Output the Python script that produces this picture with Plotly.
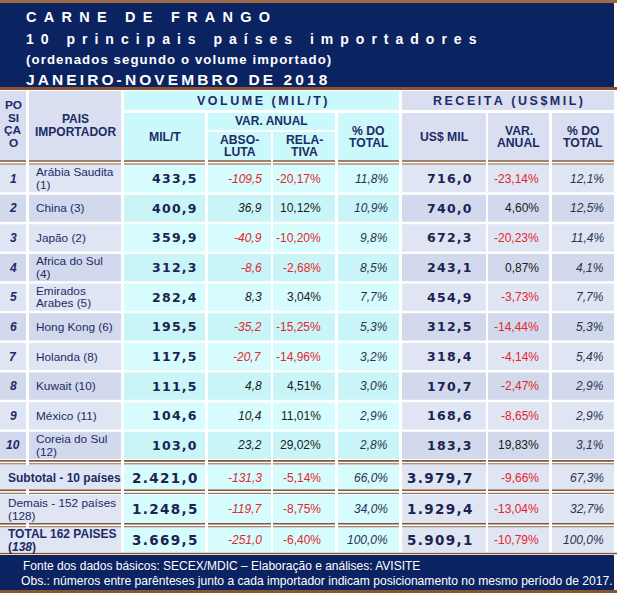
import plotly.graph_objects as go

# ---------------- data ----------------
positions = [1, 2, 3, 4, 5, 6, 7, 8, 9, 10]
country_labels = ["Arábia Saudita\n(1)", "China (3)", "Japão (2)", "Africa do Sul\n(4)",
                  "Emirados\nArabes (5)", "Hong Kong (6)", "Holanda (8)", "Kuwait (10)",
                  "México (11)", "Coreia do Sul\n(12)"]
volume = [433.5, 400.9, 359.9, 312.3, 282.4, 195.5, 117.5, 111.5, 104.6, 103.0]
var_abs = [-109.5, 36.9, -40.9, -8.6, 8.3, -35.2, -20.7, 4.8, 10.4, 23.2]
var_rel = [-20.17, 10.12, -10.20, -2.68, 3.04, -15.25, -14.96, 4.51, 11.01, 29.02]
share_vol = [11.8, 10.9, 9.8, 8.5, 7.7, 5.3, 3.2, 3.0, 2.9, 2.8]
revenue = [716.0, 740.0, 672.3, 243.1, 454.9, 312.5, 318.4, 170.7, 168.6, 183.3]
rev_var = [-23.14, 4.60, -20.23, 0.87, -3.73, -14.44, -4.14, -2.47, -8.65, 19.83]
rev_share = [12.1, 12.5, 11.4, 4.1, 7.7, 5.3, 5.4, 2.9, 2.9, 3.1]

summary_labels = ["Subtotal - 10 países", "Demais - 152 países\n(128)", "TOTAL 162 PAISES\n(<i>138</i>)"]
summary_bold = [True, False, True]
summary_volume = [2421.0, 1248.5, 3669.5]
summary_var_abs = [-131.3, -119.7, -251.0]
summary_var_rel = [-5.14, -8.75, -6.40]
summary_share_vol = [66.0, 34.0, 100.0]
summary_revenue = [3979.7, 1929.4, 5909.1]
summary_rev_var = [-9.66, -13.04, -10.79]
summary_rev_share = [67.3, 32.7, 100.0]

title_lines = ["CARNE DE FRANGO", "10 principais países importadores",
               "(ordenados segundo o volume importado)", "JANEIRO-NOVEMBRO DE 2018"]
group_headers = ["VOLUME (MIL/T)", "RECEITA (US$MIL)"]
col_headers = ["PO\nSI\nÇA\nO", "PAIS\nIMPORTADOR", "MIL/T", "ABSO-\nLUTA", "RELA-\nTIVA",
               "% DO\nTOTAL", "US$ MIL", "VAR.\nANUAL", "% DO\nTOTAL"]
sub_header = "VAR. ANUAL"
footer_lines = ["Fonte dos dados básicos: SECEX/MDIC – Elaboração e análises: AVISITE",
                "Obs.: números entre parênteses junto a cada importador indicam posicionamento no mesmo período de 2017."]

# ---------------- style / layout ----------------
W, H = 617, 593
SANS = "Liberation Sans, Arial, sans-serif"
NUMF = "DejaVu Sans, Verdana, sans-serif"
NAVY = "#0c2362"
BROWN = "#8a5432"
BROWN2 = "#7b5c4a"
TXT = "#1c2b66"
RED = "#e3262b"
DARK = "#1a1a1a"
LAV = ["#dfe5f3", "#d2d9ed"]
CYAN = ["#d7fcfd", "#c9f5f8"]
LAV_H = "#d9dff0"
CYAN_H = "#cbf8fa"

# column extents (x0, x1)
cols = [(0, 26), (29, 121), (124, 205), (208, 271), (273, 335), (338, 399),
        (402, 486), (488, 549), (552, 614)]
col_kind = ["L", "L", "C", "C", "C", "C", "L", "L", "L"]
right_edge = [None, None, 198, 263, 322, 389, 473, 540, 605]

shapes = []
annots = []


def rect(x0, x1, y0, y1, color):
    shapes.append(dict(type="rect", xref="x", yref="y", x0=x0, x1=x1, y0=y0, y1=y1,
                       fillcolor=color, line=dict(width=0), layer="below"))


def hline(x0, x1, y, color, width):
    shapes.append(dict(type="line", xref="x", yref="y", x0=x0, x1=x1, y0=y, y1=y,
                       line=dict(color=color, width=width), layer="above"))


def text(x, y, s, size, color, family=SANS, bold=False, italic=False,
         xanchor="center", lh=None):
    lines = s.split("\n")
    lh = lh if lh is not None else size * 1.05
    y0 = y - (len(lines) - 1) * lh / 2
    for k, ln in enumerate(lines):
        annots.append(dict(x=x, y=y0 + k * lh, xref="x", yref="y", text=ln, showarrow=False,
                           xanchor=xanchor, yanchor="middle", borderpad=0,
                           font=dict(family=family, size=size, color=color,
                                     weight="bold" if bold else "normal",
                                     style="italic" if italic else "normal")))


def spaced(s, sep):
    return sep.join(list(s))


def br(v, dec):
    s = f"{v:,.{dec}f}"
    return s.replace(",", "#").replace(".", ",").replace("#", ".")


def sign_color(v):
    return RED if v < 0 else DARK


# ---- title block ----
hline(0, W, 1.5, "#9b6a45", 3)
rect(0, 614, 3, 87, NAVY)
hline(0, W, 88.5, BROWN, 3)
text(25, 17, spaced(title_lines[0], "\u2002"), 14.5, "white", bold=True, xanchor="left")
text(25, 39, spaced(title_lines[1], "\u2002"), 14, "white", bold=True, xanchor="left")
text(25, 59, spaced(title_lines[2], "\u200a"), 13.2, "white", bold=True, xanchor="left")
text(25, 79, spaced(title_lines[3], "\u2009"), 15.5, "white", bold=True, xanchor="left")

# ---- header ----
HT, HB = 91, 160
rect(cols[0][0], cols[0][1], HT, HB, LAV_H)
rect(cols[1][0], cols[1][1], HT, HB, LAV_H)
rect(cols[2][0], cols[5][1], HT, 110, CYAN_H)
rect(cols[6][0], cols[8][1], HT, 110, LAV_H)
rect(cols[2][0], cols[2][1], 113, HB, CYAN_H)
rect(cols[3][0], cols[4][1], 113, 130, CYAN_H)
rect(cols[3][0], cols[3][1], 132, HB, CYAN_H)
rect(cols[4][0], cols[4][1], 132, HB, CYAN_H)
rect(cols[5][0], cols[5][1], 113, HB, CYAN_H)
for c in (6, 7, 8):
    rect(cols[c][0], cols[c][1], 113, HB, LAV_H)

text(13, 124, col_headers[0], 11.8, TXT, bold=True, lh=12.8)
text(75, 125, col_headers[1], 12, TXT, bold=True, lh=13)
text((cols[2][0] + cols[5][1]) / 2, 101, spaced(group_headers[0], "\u2009"), 12.5, TXT, bold=True)
text((cols[6][0] + cols[8][1]) / 2, 101, spaced(group_headers[1], "\u2009"), 12.5, TXT, bold=True)
text((cols[3][0] + cols[4][1]) / 2, 121, sub_header, 12, TXT, bold=True)
for c in range(2, 9):
    x0, x1 = cols[c]
    yc = 146 if c in (3, 4) else 137
    text((x0 + x1) / 2, yc, col_headers[c], 12.2, TXT, bold=True, lh=12.5)


def double_line(y):
    for x0, x1 in cols:
        hline(x0, x1, y, BROWN, 1.6)
        hline(x0, x1, y + 3, BROWN2, 1)


double_line(161)

# ---- data rows ----
R0, PITCH, RH = 165, 29.65, 27.2


def value_cells(yc, vals, big):
    v_vol, v_abs, v_rel, v_sv, v_rev, v_rv, v_rs = vals
    nsize = 13.5 if big else 12.5
    text(right_edge[2], yc, spaced(br(v_vol, 1), "\u200a"), nsize, "#1b2450", family=NUMF,
         bold=True, xanchor="right")
    text(right_edge[3], yc, br(v_abs, 1), 12, sign_color(v_abs), italic=True, xanchor="right")
    text(right_edge[4], yc, br(v_rel, 2) + "%", 12, sign_color(v_rel), xanchor="right")
    text(right_edge[5], yc, br(v_sv, 1) + "%", 12, "#2a3354", italic=True, xanchor="right")
    text(right_edge[6], yc, spaced(br(v_rev, 1), "\u200a"), nsize, "#1b2450", family=NUMF,
         bold=True, xanchor="right")
    text(right_edge[7], yc, br(v_rv, 2) + "%", 12, sign_color(v_rv), xanchor="right")
    text(right_edge[8], yc, br(v_rs, 1) + "%", 12, "#2a3354", italic=True, xanchor="right")


for i in range(len(positions)):
    y0 = R0 + i * PITCH
    y1 = y0 + RH
    yc = (y0 + y1) / 2
    for c, (x0, x1) in enumerate(cols):
        rect(x0, x1, y0, y1, (LAV if col_kind[c] == "L" else CYAN)[i % 2])
    text(13, yc, str(positions[i]), 12, TXT, bold=True, italic=True)
    text(35, yc, country_labels[i], 11.8, TXT, xanchor="left", lh=12.3)
    value_cells(yc, [volume[i], var_abs[i], var_rel[i], share_vol[i], revenue[i],
                     rev_var[i], rev_share[i]], False)

# ---- summary rows ----
last_bottom = R0 + (len(positions) - 1) * PITCH + RH
sum_rows = [(last_bottom + 6, 490), (494.5, 523.5), (528, 552)]
for j, (y0, y1) in enumerate(sum_rows):
    double_line(y0 - 5 + 0.8)
    yc = (y0 + y1) / 2
    rect(cols[0][0], cols[1][1], y0, y1, LAV[0])
    for c in range(2, 9):
        x0, x1 = cols[c]
        rect(x0, x1, y0, y1, LAV[0] if col_kind[c] == "L" else CYAN[0])
    text(7, yc, summary_labels[j], 12 if j != 1 else 11.8, TXT, bold=summary_bold[j],
         xanchor="left", lh=13)
    value_cells(yc, [summary_volume[j], summary_var_abs[j], summary_var_rel[j],
                     summary_share_vol[j], summary_revenue[j], summary_rev_var[j],
                     summary_rev_share[j]], True)

# ---- footer ----
hline(0, W, 553.5, BROWN, 1.6)
rect(0, 614, 555, 590, NAVY)
hline(0, W, 591.5, BROWN, 3)
text(22, 566, footer_lines[0], 12, "white", xanchor="left")
text(20, 581, footer_lines[1], 12.1, "white", xanchor="left")

fig = go.Figure(go.Scatter(x=[], y=[], mode="markers", hoverinfo="skip", showlegend=False))
fig.update_layout(
    width=W, height=H, margin=dict(l=0, r=0, t=0, b=0),
    paper_bgcolor="white", plot_bgcolor="white",
    xaxis=dict(range=[0, W], visible=False, fixedrange=True),
    yaxis=dict(range=[H, 0], visible=False, fixedrange=True),
    shapes=shapes, annotations=annots, showlegend=False,
)
fig.write_html("out.html", config={"displayModeBar": False},
               post_script="document.body.style.margin='0';document.body.style.padding='0';")
